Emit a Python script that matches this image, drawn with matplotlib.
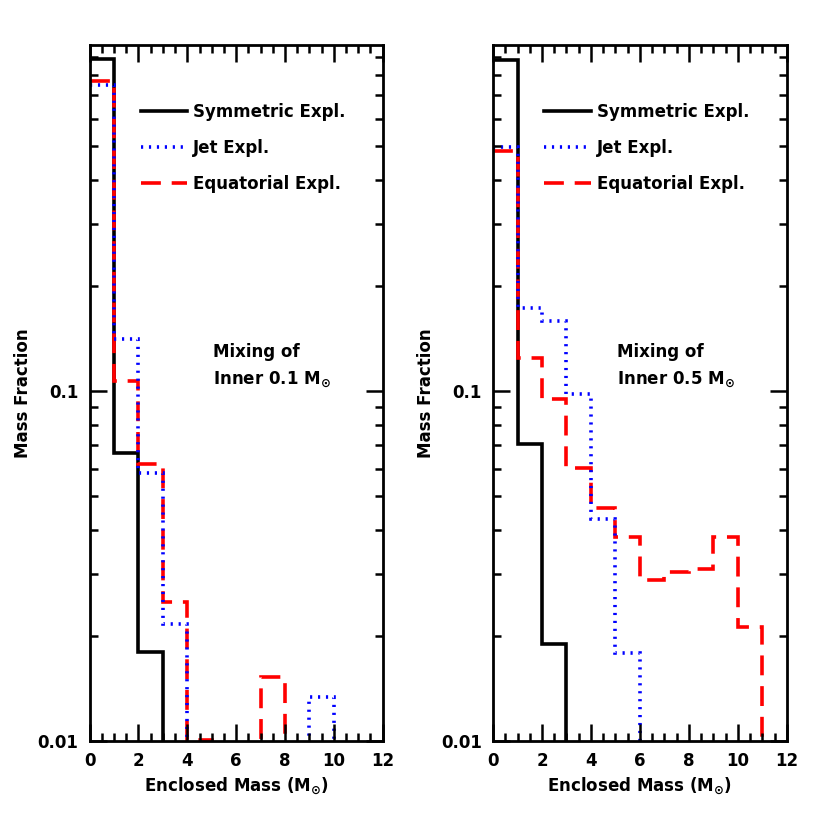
import matplotlib
matplotlib.use('Agg')
import matplotlib.pyplot as plt
import numpy as np

# bin edges of enclosed mass (Msun)
edges = np.arange(0, 13, 1)

# left panel: mixing of inner 0.1 Msun
sym_01 = [0.887, 0.0664, 0.0180, 0, 0, 0, 0, 0, 0, 0, 0, 0]
jet_01 = [0.748, 0.141, 0.0584, 0.0216, 0, 0, 0, 0, 0, 0.0134, 0, 0]
equ_01 = [0.770, 0.107, 0.0619, 0.0250, 0.0101, 0, 0, 0.0153, 0, 0, 0, 0]

# right panel: mixing of inner 0.5 Msun
sym_05 = [0.883, 0.0704, 0.0190, 0, 0, 0, 0, 0, 0, 0, 0, 0]
jet_05 = [0.499, 0.173, 0.1585, 0.0978, 0.0431, 0.0179, 0, 0, 0, 0, 0, 0]
equ_05 = [0.486, 0.124, 0.0947, 0.0601, 0.0464, 0.0382, 0.0288, 0.0305,
          0.0310, 0.0382, 0.0212, 0]

labels = ['Symmetric Expl.', 'Jet Expl.', 'Equatorial Expl.']
panel_notes = ['Mixing of\nInner 0.1 M$_{\\odot}$', 'Mixing of\nInner 0.5 M$_{\\odot}$']

plt.rcParams['font.family'] = 'DejaVu Sans'
plt.rcParams['font.weight'] = 'bold'
plt.rcParams['mathtext.default'] = 'regular'

fig = plt.figure(figsize=(8.3, 8.3), dpi=100)
ax1 = fig.add_axes([0.108, 0.107, 0.353, 0.839])
ax2 = fig.add_axes([0.594, 0.107, 0.354, 0.839])


def draw_panel(ax, sym, jet, equ, note):
    # step histograms, zero bins fall off the log axis
    ax.stairs(sym, edges, color='black', lw=2.6, baseline=None,
              label=labels[0])
    ax.stairs(equ, edges, color='red', lw=2.6, ls=(0, (5.5, 3)), baseline=None,
              label=labels[2])
    ax.stairs(jet, edges, color='blue', lw=2.6, ls=(0, (0.6, 1.6)), baseline=None,
              label=labels[1])

    ax.set_yscale('log', nonpositive='clip')
    ax.set_xlim(0, 12)
    ax.set_ylim(0.01, 0.975)
    ax.set_xticks(np.arange(0, 13, 2))
    ax.set_xticks(np.arange(0, 12.5, 0.5), minor=True)
    ax.set_yticks([0.01, 0.1])
    ax.set_yticklabels(['0.01', '0.1'])
    ax.tick_params(which='both', direction='in', top=True, right=True,
                   width=1.8, labelsize=12, pad=8)
    ax.tick_params(which='major', length=12)
    ax.tick_params(which='minor', length=6)
    ax.yaxis.set_minor_formatter(matplotlib.ticker.NullFormatter())
    for s in ax.spines.values():
        s.set_linewidth(2)

    ax.set_xlabel('Enclosed Mass (M$_{\\odot}$)', fontsize=12, fontweight='bold')
    ax.set_ylabel('Mass Fraction', fontsize=12, fontweight='bold')

    handles, labs = ax.get_legend_handles_labels()
    order = [labs.index(l) for l in labels]
    leg = ax.legend([handles[i] for i in order], labels, loc='upper left',
                    bbox_to_anchor=(0.123, 0.938), frameon=False, fontsize=12,
                    handlelength=2.8, labelspacing=1.08, handletextpad=0.35)
    for h in leg.get_lines():
        h.set_linewidth(2.6)

    ax.text(5.05, 0.137, note, fontsize=12, fontweight='bold',
            ha='left', va='top', linespacing=1.55)


draw_panel(ax1, sym_01, jet_01, equ_01, panel_notes[0])
draw_panel(ax2, sym_05, jet_05, equ_05, panel_notes[1])

fig.savefig('out.png', dpi=100)
